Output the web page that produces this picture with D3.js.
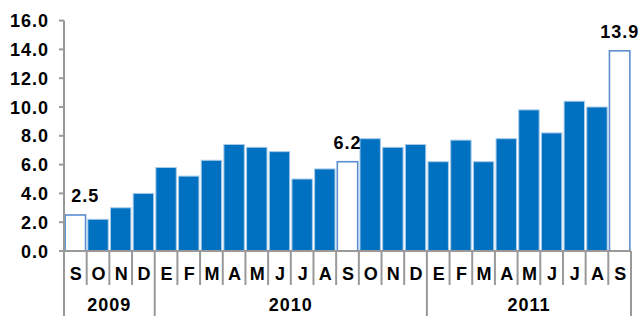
<!DOCTYPE html>
<html>
<head>
<meta charset="utf-8">
<script src="https://cdn.jsdelivr.net/npm/d3@7"></script>
<style>
  body { margin: 0; background: #fff; }
  text { font-family: Arial, "Liberation Sans", sans-serif; font-weight: bold; fill: #000; }
</style>
</head>
<body>
<div id="chart"></div>
<script>
// monthly values, Sep 2009 - Sep 2011
const months = ['S', 'O', 'N', 'D',
  'E', 'F', 'M', 'A', 'M', 'J', 'J', 'A', 'S', 'O', 'N', 'D',
  'E', 'F', 'M', 'A', 'M', 'J', 'J', 'A', 'S'];
const values = [2.5, 2.2, 3.0, 4.0,
  5.8, 5.2, 6.3, 7.4, 7.2, 6.9, 5.0, 5.7, 6.2, 7.8, 7.2, 7.4,
  6.2, 7.7, 6.2, 7.8, 9.8, 8.2, 10.4, 10.0, 13.9];
const years = ['2009', '2010', '2011'];
const yearStarts = [0, 4, 16, 25]; // index where each year starts (last = end)
const highlighted = [0, 12, 24]; // hollow bars with labels
const yTicks = [0, 2, 4, 6, 8, 10, 12, 14, 16];

const width = 642, height = 316;
const axisColor = '#999';

const svg = d3.select('#chart').append('svg')
  .attr('width', width)
  .attr('height', height);

const data = months.map((m, i) => ({i, m, v: values[i]}));

const x = d3.scaleBand()
  .domain(d3.range(months.length))
  .range([64, 631])
  .paddingInner(0.1)
  .paddingOuter(0.05);

const y = d3.scaleLinear()
  .domain([0, 16])
  .range([251, 20.6]);

const step = x.step();
const x0 = x.range()[0];

// bars
svg.append('g').selectAll('rect')
  .data(data)
  .join('rect')
  .attr('x', d => x(d.i))
  .attr('y', d => y(d.v))
  .attr('width', x.bandwidth())
  .attr('height', d => y(0) - y(d.v))
  .attr('fill', d => highlighted.includes(d.i) ? '#fff' : '#0070c0')
  .attr('stroke', d => highlighted.includes(d.i) ? '#5a8ed0' : '#a9cbe9')
  .attr('stroke-width', d => highlighted.includes(d.i) ? 1.6 : 1);

// value labels
svg.append('g').selectAll('text')
  .data(data.filter(d => highlighted.includes(d.i)))
  .join('text')
  .attr('x', d => x(d.i) + x.bandwidth() / 2 + (d.i === 0 ? 10 : 0))
  .attr('y', d => y(d.v) - 13)
  .attr('text-anchor', 'middle')
  .style('font-size', '18px')
  .style('letter-spacing', '1px')
  .text(d => d.v.toFixed(1));

// y axis
const yAxis = svg.append('g');
yAxis.append('line')
  .attr('x1', x0).attr('x2', x0)
  .attr('y1', y(16)).attr('y2', height)
  .attr('stroke', axisColor).attr('stroke-width', 2);
yAxis.selectAll('.tick')
  .data(yTicks)
  .join('line')
  .attr('x1', x0 - 5).attr('x2', x0)
  .attr('y1', d => y(d)).attr('y2', d => y(d))
  .attr('stroke', axisColor).attr('stroke-width', 2);
yAxis.selectAll('text')
  .data(yTicks)
  .join('text')
  .attr('x', 49)
  .attr('y', d => y(d) + 6.5)
  .attr('text-anchor', 'end')
  .style('font-size', '18px')
  .style('letter-spacing', '1px')
  .text(d => d3.format('.1f')(d));

// x axis
const xAxis = svg.append('g');
xAxis.append('line')
  .attr('x1', x0).attr('x2', x0 + step * months.length)
  .attr('y1', y(0)).attr('y2', y(0))
  .attr('stroke', axisColor).attr('stroke-width', 2);

xAxis.selectAll('.sep')
  .data(d3.range(1, months.length + 1))
  .join('line')
  .attr('x1', i => x0 + i * step).attr('x2', i => x0 + i * step)
  .attr('y1', y(0))
  .attr('y2', i => yearStarts.includes(i) ? height : 285)
  .attr('stroke', axisColor).attr('stroke-width', 2);

xAxis.selectAll('.month')
  .data(data)
  .join('text')
  .attr('x', d => x(d.i) + x.bandwidth() / 2 + 0.5)
  .attr('y', 280)
  .attr('text-anchor', 'middle')
  .style('font-size', '18px')
  .text(d => d.m);

xAxis.selectAll('.year')
  .data(years)
  .join('text')
  .attr('x', (d, k) => x0 + (yearStarts[k] + yearStarts[k + 1]) / 2 * step)
  .attr('y', 311)
  .attr('text-anchor', 'middle')
  .style('font-size', '18px')
  .style('letter-spacing', '1px')
  .text(d => d);
</script>
</body>
</html>
